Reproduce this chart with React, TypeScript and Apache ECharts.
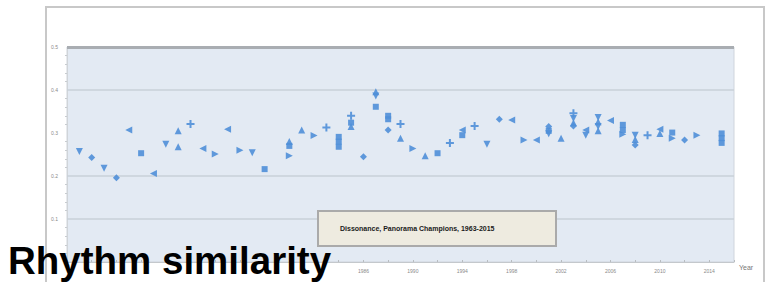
import React, { useEffect, useRef } from "react";
import * as echarts from "echarts";

// Panorama champions, dissonance score per champion arrangement
const pointYears = [
  1963, 1964, 1965, 1966, 1967, 1968, 1969, 1970, 1971, 1971, 1972, 1973, 1974, 1975, 1976, 1977, 1978,
  1980, 1980, 1980, 1981, 1982, 1983, 1984, 1984, 1984, 1985, 1985, 1985, 1986, 1987, 1987, 1987,
  1988, 1988, 1988, 1989, 1989, 1990, 1991, 1992, 1993, 1994, 1994, 1995, 1996, 1997, 1998, 1999, 2000,
  2001, 2001, 2001, 2002, 2003, 2003, 2003, 2003, 2004, 2004, 2005, 2005, 2005, 2005, 2006,
  2007, 2007, 2007, 2008, 2008, 2008, 2009, 2010, 2010, 2011, 2011, 2012, 2013, 2015, 2015, 2015,
];
const pointValues = [
  0.257, 0.243, 0.218, 0.196, 0.307, 0.253, 0.206, 0.274, 0.305, 0.268, 0.321, 0.264, 0.251, 0.309, 0.26, 0.254, 0.216,
  0.28, 0.27, 0.247, 0.307, 0.294, 0.313, 0.291, 0.28, 0.268, 0.34, 0.324, 0.315, 0.245, 0.396, 0.386, 0.361,
  0.34, 0.332, 0.307, 0.321, 0.288, 0.264, 0.247, 0.253, 0.277, 0.307, 0.295, 0.316, 0.274, 0.332, 0.33, 0.284, 0.284,
  0.315, 0.305, 0.298, 0.288, 0.346, 0.334, 0.324, 0.316, 0.307, 0.295, 0.336, 0.326, 0.315, 0.305, 0.329,
  0.319, 0.307, 0.297, 0.295, 0.285, 0.272, 0.295, 0.309, 0.299, 0.301, 0.288, 0.284, 0.295, 0.299, 0.288, 0.277,
];
const pointShapes = [
  "tri-d", "dia", "tri-d", "dia", "tri-l", "sq", "tri-l", "tri-d", "tri-u", "tri-u", "plus", "tri-l", "tri-r", "tri-l", "tri-r", "tri-d", "sq",
  "tri-u", "sq", "tri-r", "tri-u", "tri-r", "plus", "sq", "sq", "sq", "plus", "sq", "tri-u", "dia", "tri-u", "tri-d", "sq",
  "sq", "sq", "dia", "plus", "tri-u", "tri-r", "tri-u", "sq", "plus", "tri-l", "sq", "plus", "tri-d", "dia", "tri-l", "tri-r", "tri-l",
  "dia", "sq", "tri-d", "tri-u", "plus", "tri-d", "tri-u", "dia", "tri-l", "tri-d", "tri-d", "tri-u", "tri-d", "tri-u", "tri-l",
  "sq", "sq", "tri-r", "tri-d", "tri-u", "dia", "plus", "tri-l", "tri-u", "sq", "tri-r", "dia", "tri-r", "sq", "sq", "sq",
];
const yTickLabels = ["", "0.1", "0.2", "0.3", "0.4", "0.5"];
const gridLineValues = [0.1, 0.2, 0.4];
const firstShownYearLabel = 1986;
const titleText = "Rhythm similarity";
const boxText = "Dissonance, Panorama Champions, 1963-2015";

const PLUS = "path://M3,0H5V3H8V5H5V8H3V5H0V3H3Z";

function shapeOf(s: string) {
  switch (s) {
    case "tri-u":
      return { symbol: "triangle", symbolRotate: 0, symbolSize: 7 };
    case "tri-d":
      return { symbol: "triangle", symbolRotate: 180, symbolSize: 7 };
    case "tri-l":
      return { symbol: "triangle", symbolRotate: 90, symbolSize: 7 };
    case "tri-r":
      return { symbol: "triangle", symbolRotate: -90, symbolSize: 7 };
    case "dia":
      return { symbol: "diamond", symbolRotate: 0, symbolSize: 7 };
    case "plus":
      return { symbol: PLUS, symbolRotate: 0, symbolSize: 8 };
    default:
      return { symbol: "rect", symbolRotate: 0, symbolSize: 6 };
  }
}

export default function App() {
  const ref = useRef<HTMLDivElement>(null);
  useEffect(() => {
    if (!ref.current) return;
    const chart = echarts.init(ref.current, undefined, { renderer: "svg" });
    const data = pointYears.map((y, i) => ({
      value: [y, pointValues[i]],
      ...shapeOf(pointShapes[i]),
    }));
    const gridColor = "#c9d0d9";
    chart.setOption({
      animation: false,
      backgroundColor: "#ffffff",
      grid: {
        left: 67,
        right: 33,
        top: 47,
        bottom: 20,
        show: true,
        backgroundColor: "#e3eaf3",
        borderColor: "#cfd5dc",
        borderWidth: 1,
      },
      xAxis: {
        type: "value",
        min: 1962,
        max: 2016,
        interval: 2,
        name: "Year",
        nameLocation: "end",
        nameGap: 5,
        nameTextStyle: { fontSize: 7, color: "#777", fontFamily: "Liberation Sans", verticalAlign: "top", padding: [2, 0, 0, 0] },
        axisLine: { show: true, lineStyle: { color: "#c4c8cc", width: 1 } },
        axisTick: { show: true, inside: true, length: 2, lineStyle: { color: "#b8bcc0" } },
        axisLabel: {
          fontSize: 5,
          color: "#8a8a8a",
          margin: 6,
          fontFamily: "Liberation Sans",
          formatter: (v: number) =>
            (v - 1962) % 4 === 0 && v >= firstShownYearLabel && v < 2016 ? String(v) : "",
        },
        splitLine: { show: false },
      },
      yAxis: {
        type: "value",
        min: 0,
        max: 0.5,
        interval: 0.1,
        axisLine: { show: true, lineStyle: { color: "#d0d4d8" } },
        axisTick: { show: false },
        minorTick: { show: true, splitNumber: 5, length: 2, lineStyle: { color: "#c8ccd0" } },
        axisLabel: {
          fontSize: 5,
          color: "#8a8a8a",
          margin: 9,
          fontFamily: "Liberation Sans",
          formatter: (v: number) => yTickLabels[Math.round(v * 10)] ?? "",
        },
        splitLine: { show: false },
      },
      graphic: [
        {
          type: "rect",
          shape: { x: 46, y: 7, width: 718, height: 300 },
          style: { fill: "rgba(0,0,0,0)", stroke: "#c8c8c8", lineWidth: 2 },
          z: 1,
          silent: true,
        },
        {
          type: "rect",
          shape: { x: 318, y: 211, width: 238, height: 35 },
          style: { fill: "#eeebe0", stroke: "#aaaaaa", lineWidth: 2 },
          z: 100,
          silent: true,
        },
        {
          type: "text",
          x: 340,
          y: 228,
          style: {
            text: boxText,
            font: "bold 7px 'Liberation Sans', sans-serif",
            fill: "#1a1a1a",
            verticalAlign: "middle",
          },
          z: 101,
          silent: true,
        },
        {
          type: "text",
          x: 8,
          y: 260,
          style: {
            text: titleText,
            font: "bold 38.5px 'Liberation Sans', Arial, sans-serif",
            fill: "#000000",
            verticalAlign: "middle",
          },
          z: 102,
          silent: true,
        },
      ],
      series: [
        {
          type: "scatter",
          data,
          z: 3,
          itemStyle: { color: "#4f8fd8", opacity: 0.9 },
          markLine: {
            silent: true,
            symbol: "none",
            label: { show: false },
            z: 1,
            data: [
              ...gridLineValues.map((v) => ({
                yAxis: v,
                lineStyle: { color: gridColor, width: 1.5, type: "solid" },
              })),
              { yAxis: 0.5, lineStyle: { color: "#a9adb2", width: 3, type: "solid" } },
            ],
          },
        },
      ],
    });
    return () => chart.dispose();
  }, []);
  return <div ref={ref} style={{ position: "fixed", left: 0, top: 0, width: 767, height: 282 }} />;
}
